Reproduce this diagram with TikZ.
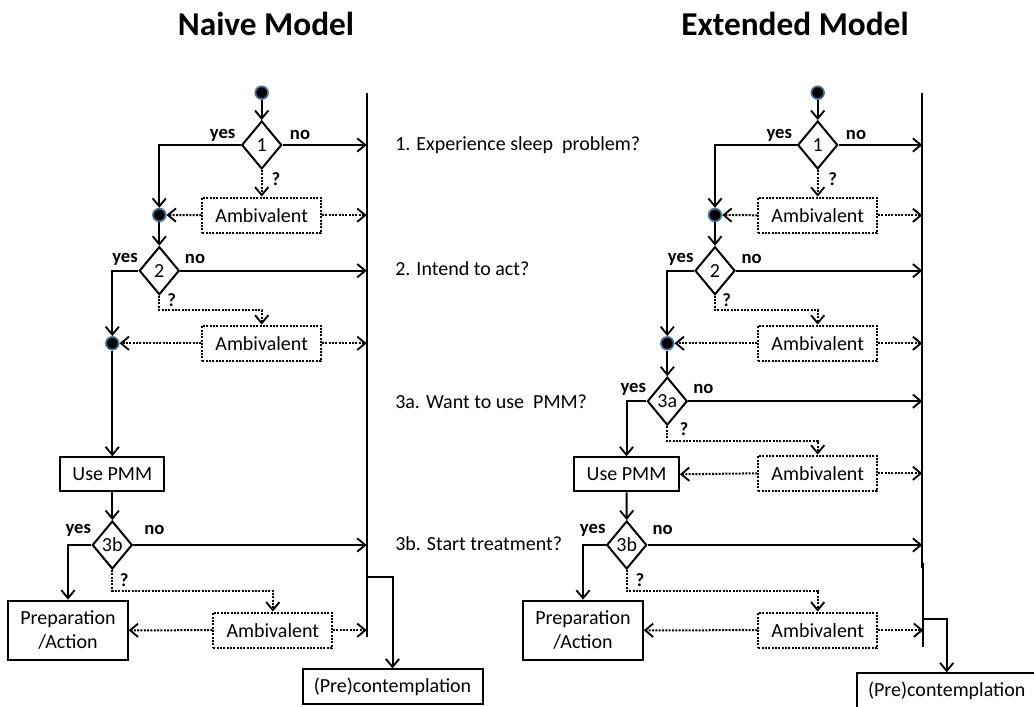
\documentclass[tikz,border=0pt]{standalone}
\usepackage{fontspec}
\setmainfont{Carlito}
\usetikzlibrary{arrows.meta,shapes.geometric}
\definecolor{dotblue}{HTML}{41719C}
\tikzset{
  ln/.style={line width=1.5pt},
  arr/.style={ln,-{Straight Barb[length=6pt,width=10pt,line width=1.4pt]}},
  darr/.style={arr,dash pattern=on 1.5pt off 1pt},
  dec/.style={draw,ln,diamond,shape aspect=0.83,minimum width=30pt,minimum height=36pt,inner sep=0pt,font=\fontsize{15}{18}\selectfont},
  stepbox/.style={draw,ln,rectangle,inner sep=0pt,align=center,font=\fontsize{15}{18}\selectfont},
  amb/.style={draw,ln,dash pattern=on 1.5pt off 1pt,rectangle,inner sep=0pt,minimum width=89pt,minimum height=26.5pt,font=\fontsize{15}{18}\selectfont},
  jdot/.style={circle,fill=black,draw=dotblue,line width=1.3pt,minimum size=9.5pt,inner sep=0pt},
  lab/.style={font=\bfseries\fontsize{14}{16}\selectfont,inner sep=0pt},
  qtext/.style={anchor=west,inner sep=0pt,font=\fontsize{15}{18}\selectfont},
  title/.style={font=\bfseries\fontsize{25}{30}\selectfont,inner sep=0pt}
}
\begin{document}
\begin{tikzpicture}[x=0.75pt,y=-0.75pt]
\useasboundingbox (0,0) rectangle (1034,706);

% titles
\node[title] (t1) at (266,24) {Naive Model};
\node[title] (t2) at (795,24) {Extended Model};

% questions
\node[qtext] (q1) at (395,145) {1. Experience sleep\ \ problem?};
\node[qtext] (q2) at (395,268.3) {2. Intend to act?};
\node[qtext] (q3) at (395,401.7) {3a. Want to use\ \ PMM?};
\node[qtext] (q4) at (395,543.3) {3b. Start treatment?};

% ================= Naive model =================
\coordinate (Vt) at (366.7,93.3);
\coordinate (Vb) at (366.7,636.7);
\draw[ln] (Vt) -- (Vb);

\node[jdot] (S1) at (261.7,92.7) {};
\node[dec] (D1) at (261.7,145) {1};
\node[amb] (A1) at (261.7,215.2) {Ambivalent};
\node[jdot] (J1) at (159.3,215) {};
\node[dec] (D2) at (159.3,270.7) {2};
\node[amb] (A2) at (261.7,343.3) {Ambivalent};
\node[jdot] (J2) at (112.3,343.3) {};
\node[stepbox,minimum width=78pt,minimum height=25.5pt] (U) at (112.3,474.3) {Use PMM};
\node[dec] (D3) at (112.3,545) {3b};
\node[amb] (A3) at (272.8,630.2) {Ambivalent};
\node[stepbox,minimum width=89.5pt,minimum height=44.5pt] (P) at (68,630.3) {Preparation\\/Action};
\node[stepbox,minimum width=135pt,minimum height=26pt] (C) at (392.5,686.7) {(Pre)contemplation};

\draw[arr] (S1) -- (D1.north);
\draw[arr] (D1.west) -| (J1);
\draw[arr] (D1.east) -- (D1.east -| Vt);
\draw[darr] (D1.south) -- (A1.north);
\draw[darr] (A1.west) -- (J1);
\draw[darr] (A1.east) -- (A1.east -| Vt);
\draw[arr] (J1) -- (D2.north);
\draw[arr] (D2.west) -| (J2);
\draw[arr] (D2.east) -- (D2.east -| Vt);
\coordinate (b2) at (261.7,310);
\draw[darr] (D2.south) |- (b2) -- (A2.north);
\draw[darr] (A2.west) -- (J2);
\draw[darr] (A2.east) -- (A2.east -| Vt);
\draw[arr] (J2) -- (U.north);
\draw[arr] (U.south) -- (D3.north);
\draw[arr] (D3.west) -| (P.north);
\draw[arr] (D3.east) -- (D3.east -| Vt);
\coordinate (b3) at (272.8,590.7);
\draw[darr] (D3.south) |- (b3) -- (A3.north);
\draw[darr] (A3.west) -- (P.east);
\draw[darr] (A3.east) -- (A3.east -| Vt);
\coordinate (br) at (366.7,576.7);
\draw[arr] (br) -| (C.north);

\node[lab] (y1) at (222.7,135) {yes};
\node[lab] (n1) at (300,135) {no};
\node[lab] (y2) at (125,259) {yes};
\node[lab] (n2) at (195,259) {no};
\node[lab] (y3) at (78.3,530) {yes};
\node[lab] (n3) at (154.3,530) {no};
\node[lab] (m1) at (276,179) {?};
\node[lab] (m2) at (171.7,300) {?};
\node[lab] (m3) at (124.3,580) {?};

% ================= Extended model =================
\coordinate (Wt) at (922.3,93.3);
\coordinate (Wm) at (922.3,568);
\coordinate (Wm2) at (923.3,563);
\coordinate (Wb) at (923.3,646.7);
\draw[ln] (Wt) -- (Wm);
\draw[ln] (Wm2) -- (Wb);

\node[jdot] (R1) at (817.7,92.7) {};
\node[dec] (E1) at (817.7,145) {1};
\node[amb] (B1) at (817.7,215.3) {Ambivalent};
\node[jdot] (K1) at (715,215) {};
\node[dec] (E2) at (715,270.7) {2};
\node[amb] (B2) at (817.7,343.3) {Ambivalent};
\node[jdot] (K2) at (667.3,343.3) {};
\node[dec] (E3) at (667.3,401.2) {3a};
\node[amb] (B3) at (817.7,473.3) {Ambivalent};
\node[stepbox,minimum width=78.5pt,minimum height=25.5pt] (UR) at (626.5,474.3) {Use PMM};
\node[dec] (E4) at (626.7,545) {3b};
\node[amb] (B4) at (817.7,630.2) {Ambivalent};
\node[stepbox,minimum width=89.5pt,minimum height=44.5pt] (PR) at (583,630.3) {Preparation\\/Action};
\node[stepbox,minimum width=135pt,minimum height=26.5pt] (CR) at (946.7,691) {(Pre)contemplation};

\draw[arr] (R1) -- (E1.north);
\draw[arr] (E1.west) -| (K1);
\draw[arr] (E1.east) -- (E1.east -| Wt);
\draw[darr] (E1.south) -- (B1.north);
\draw[darr] (B1.west) -- (K1);
\draw[darr] (B1.east) -- (B1.east -| Wt);
\draw[arr] (K1) -- (E2.north);
\draw[arr] (E2.west) -| (K2);
\draw[arr] (E2.east) -- (E2.east -| Wt);
\coordinate (c2) at (817.7,310);
\draw[darr] (E2.south) |- (c2) -- (B2.north);
\draw[darr] (B2.west) -- (K2);
\draw[darr] (B2.east) -- (B2.east -| Wt);
\draw[arr] (K2) -- (E3.north);
\draw[arr] (E3.west) -| (UR.north);
\draw[arr] (E3.east) -- (E3.east -| Wt);
\coordinate (c3) at (817.7,440.7);
\draw[darr] (E3.south) |- (c3) -- (B3.north);
\draw[darr] (B3.west) -- (UR.east);
\draw[darr] (B3.east) -- (B3.east -| Wt);
\draw[arr] (UR.south) -- (E4.north);
\draw[arr] (E4.west) -| (PR.north);
\draw[arr] (E4.east) -- (E4.east -| Wt);
\coordinate (c4) at (817.7,590.7);
\draw[darr] (E4.south) |- (c4) -- (B4.north);
\draw[darr] (B4.west) -- (PR.east);
\draw[darr] (B4.east) -- (B4.east -| Wb);
\coordinate (cr) at (923.3,619);
\draw[arr] (cr) -| (CR.north);

\node[lab] (yr1) at (779.3,135) {yes};
\node[lab] (nr1) at (856,135) {no};
\node[lab] (yr2) at (680.7,259) {yes};
\node[lab] (nr2) at (751.7,259) {no};
\node[lab] (yr3) at (633.3,389.3) {yes};
\node[lab] (nr3) at (703.3,389.3) {no};
\node[lab] (yr4) at (592.7,530) {yes};
\node[lab] (nr4) at (662.7,530) {no};
\node[lab] (mr1) at (832.7,179.3) {?};
\node[lab] (mr2) at (726.7,300) {?};
\node[lab] (mr3) at (684,429.3) {?};
\node[lab] (mr4) at (640,580) {?};
\end{tikzpicture}
\end{document}
